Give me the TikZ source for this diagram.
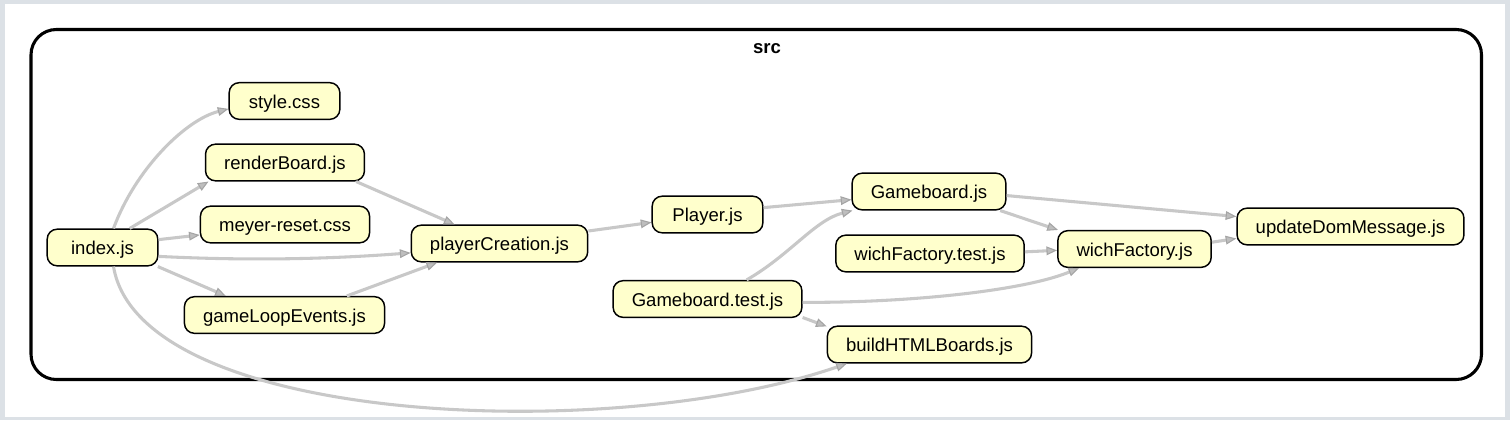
\documentclass[tikz,border=0pt]{standalone}
\usepackage{fontspec}
\setmainfont{Liberation Sans}
\usepackage{tikz}
\usetikzlibrary{arrows.meta}
\definecolor{FileFill}{RGB}{255,255,204}
\definecolor{FrameGray}{RGB}{220,225,230}
\definecolor{EdgeGray}{RGB}{200,200,200}
\definecolor{TipGray}{RGB}{165,165,165}
\definecolor{TipFill}{RGB}{190,190,190}

\begin{document}
\begin{tikzpicture}[x=0.75pt, y=-0.75pt,
          file/.style={rectangle, rounded corners=7.5pt, draw=black, line width=1.1pt,
                       fill=FileFill, minimum width=83pt, minimum height=27.5pt,
                       inner xsep=14pt, text height=11.2pt, text depth=0pt,
                       font=\fontsize{13.9}{16}\selectfont},
          dep/.style={-{Triangle[length=8pt, width=6.5pt, fill=TipFill, color=TipGray,
                      line width=0.8pt]}, EdgeGray, line width=2.3pt}
        ]
        % Frame
        \fill[FrameGray] (0,0) rectangle (1510,420);
        \fill[white] (5,4) rectangle (1505,417);

        % Cluster src
        \draw[line width=2.3pt, rounded corners=19pt] (31,29.5) rectangle (1481.5,379.5);
        \node[font=\bfseries\fontsize{13.9}{16}\selectfont] (src) at (767,49) {src};

        % Entry and its direct imports
        \node[file] (idx) at (102.5,247.5) {index.js};
        \node[file] (sty) at (284.5,101) {style.css};
        \node[file] (rb) at (285,162.5) {renderBoard.js};
        \node[file] (mr) at (285,224.5) {meyer-reset.css};
        \node[file] (gle) at (284.5,315) {gameLoopEvents.js};

        % Middle
        \node[file] (pc) at (499.5,243.5) {playerCreation.js};
        \node[file] (pl) at (707.5,214.5) {Player.js};
        \node[file] (gbt) at (707.5,299) {Gameboard.test.js};

        % Right side
        \node[file] (gb) at (929,191.5) {Gameboard.js};
        \node[file] (wft) at (930,253.5) {wichFactory.test.js};
        \node[file] (hb) at (929.5,344.5) {buildHTMLBoards.js};
        \node[file] (wf) at (1134.5,249) {wichFactory.js};
        \node[file] (udm) at (1350.5,226.5) {updateDomMessage.js};

        % Dependencies of index.js
        \draw[dep] (idx.60) .. controls (135,170) and (185,120) .. (sty.188);
        \draw[dep] (idx.35) -- (rb.194);
        \draw[dep] (idx.8) -- (mr.187);
        \draw[dep] (idx.351) .. controls (250,261) and (330,259) .. (pc.186);
        \draw[dep] (idx.341) -- (gle.162);
        \draw[dep] (idx.300) .. controls (140,425) and (610,445) .. (hb.193);

        % Into playerCreation.js and on
        \draw[dep] (rb.345) -- (pc.157);
        \draw[dep] (gle.17) -- (pc.197);
        \draw[dep] (pc.8) -- (pl.188);
        \draw[dep] (pl.7) -- (gb.186);

        % Tests and the rest
        \draw[dep] (gbt.26) .. controls (790,255) and (815,220) .. (gb.194);
        \draw[dep] (gbt.358) .. controls (900,303) and (1020,292) .. (wf.199);
        \draw[dep] (gbt.349) -- (hb.170);
        \draw[dep] (gb.357) -- (udm.175);
        \draw[dep] (gb.345) -- (wf.166);
        \draw[dep] (wft.1) -- (wf.181);
        \draw[dep] (wf.5) -- (udm.186);
      \end{tikzpicture}
\end{document}
